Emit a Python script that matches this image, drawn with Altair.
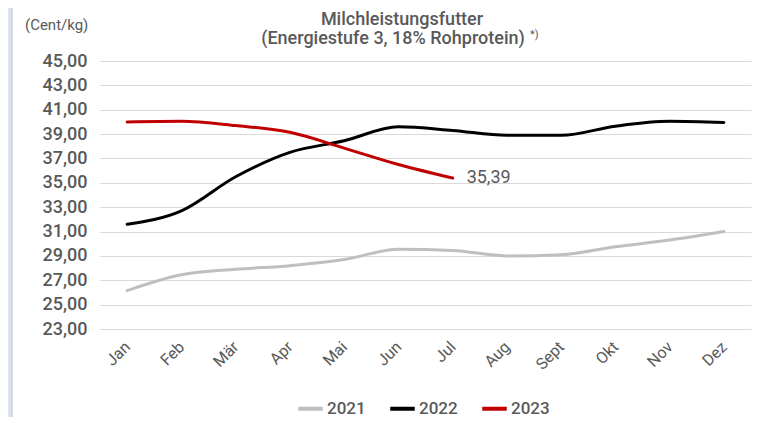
import altair as alt
import pandas as pd

months = ["Jan", "Feb", "Mär", "Apr", "Mai", "Jun", "Jul", "Aug", "Sept", "Okt", "Nov", "Dez"]
years = ["2021", "2022", "2023"]
v2021 = [26.15, 27.45, 27.9, 28.2, 28.7, 29.55, 29.45, 29.0, 29.1, 29.75, 30.3, 31.0]
v2022 = [31.6, 32.7, 35.5, 37.5, 38.45, 39.6, 39.3, 38.9, 38.9, 39.65, 40.05, 39.95]
v2023 = [40.0, 40.05, 39.7, 39.15, 37.85, 36.5, 35.39]
colors = ["#bfbfbf", "#000000", "#c00000"]
y_ticks = [23, 25, 27, 29, 31, 33, 35, 37, 39, 41, 43, 45]
title_lines = ["Milchleistungsfutter", "(Energiestufe 3, 18% Rohprotein)"]

rows = []
for yr, vals in zip(years, [v2021, v2022, v2023]):
    for m, v in zip(months, vals):
        rows.append({"Monat": m, "Jahr": yr, "Wert": v})
df = pd.DataFrame(rows)
last = pd.DataFrame([{"Monat": months[len(v2023) - 1], "Jahr": "2023", "Wert": v2023[-1],
                      "Label": f"{v2023[-1]:.2f}".replace(".", ",")}])

FONT = "Roboto, sans-serif"
GREY = "#595959"
W, H = 651, 268

x_enc = alt.X("Monat:N", sort=months, title=None,
              scale=alt.Scale(type="point", padding=0.5),
              axis=alt.Axis(labelAngle=-45, labelAlign="right", labelBaseline="middle",
                            labelPadding=15, labelFontSize=16, labelColor=GREY,
                            labelFont=FONT, ticks=False, domain=False, grid=False))
y_enc = alt.Y("Wert:Q", title=None,
              scale=alt.Scale(domain=[23, 45], nice=False, zero=False),
              axis=alt.Axis(values=y_ticks, tickCount=len(y_ticks), labelOverlap=False,
                            labelExpr="replace(format(datum.value, '.2f'), '.', ',')",
                            labelFontSize=18, labelColor=GREY, labelFont=FONT,
                            labelFontWeight=500, labelPadding=13,
                            ticks=False, domain=False, grid=True,
                            gridColor="#d9d9d9", gridWidth=1))

lines = alt.Chart(df).mark_line(interpolate="monotone", strokeWidth=3, strokeCap="round").encode(
    x=x_enc, y=y_enc,
    color=alt.Color("Jahr:N", scale=alt.Scale(domain=years, range=colors),
                    legend=alt.Legend(title=None, orient="none", legendX=196, legendY=333,
                                      direction="horizontal", symbolType="stroke",
                                      symbolStrokeWidth=4, symbolSize=600,
                                      labelFontSize=17, labelColor=GREY, labelFont=FONT,
                                      labelFontWeight=500,
                                      columnPadding=16, labelOffset=2)),
)

label = alt.Chart(last).mark_text(align="left", baseline="middle", dx=14, fontSize=18,
                                   color=GREY, font=FONT).encode(
    x=x_enc, y=y_enc, text="Label:N")

unit = alt.Chart(pd.DataFrame({"t": ["(Cent/kg)"]})).mark_text(
    align="left", baseline="middle", fontSize=15, color=GREY, font=FONT).encode(
    x=alt.value(-75), y=alt.value(-36), text="t:N")

t1 = alt.Chart(pd.DataFrame({"t": [title_lines[0]]})).mark_text(
    align="center", baseline="middle", fontSize=18, fontWeight=500, color=GREY, font=FONT).encode(
    x=alt.value(302), y=alt.value(-41), text="t:N")
t2 = alt.Chart(pd.DataFrame({"t": [title_lines[1]]})).mark_text(
    align="center", baseline="middle", fontSize=18, fontWeight=500, color=GREY, font=FONT).encode(
    x=alt.value(293), y=alt.value(-22), text="t:N")

star = alt.Chart(pd.DataFrame({"t": ["*)"]})).mark_text(
    align="left", baseline="middle", fontSize=11, color=GREY, font=FONT).encode(
    x=alt.value(430), y=alt.value(-26), text="t:N")

strip = alt.Chart(pd.DataFrame({"a": [0]})).mark_rect(color="#dce4ef").encode(
    x=alt.value(-92), x2=alt.value(-88), y=alt.value(-53), y2=alt.value(H + 88))
edge = alt.Chart(pd.DataFrame({"a": [0]})).mark_rule(color="#c0c0c0", strokeWidth=1).encode(
    x=alt.value(-88), y=alt.value(-53), y2=alt.value(H + 88))

chart = alt.layer(strip, edge, lines, label, unit, t1, t2, star).properties(
    width=W, height=H,
    autosize=alt.AutoSizeParams(type="none"),
    padding={"left": 92, "top": 53, "right": 2, "bottom": 88},
).configure_view(stroke=None)

chart.save("out.html", embed_options={"renderer": "svg", "actions": False})
